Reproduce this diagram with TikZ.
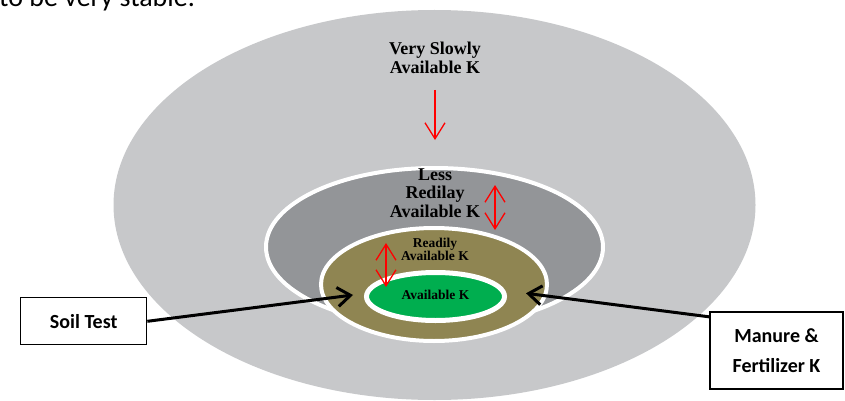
\documentclass[tikz,border=0pt]{standalone}
\usepackage{fontspec}
\setmainfont{Liberation Serif}
\newfontfamily\calibri{Carlito}
\usetikzlibrary{arrows.meta,calc}
\definecolor{outergray}{HTML}{C7C8CA}
\definecolor{midgray}{HTML}{939598}
\definecolor{olive}{HTML}{8F8552}
\definecolor{kgreen}{HTML}{00AE4F}
\tikzset{
  ring/.style={fill=#1, draw=white},
  biglabel/.style={align=center, inner sep=0pt, font=\bfseries\fontsize{18}{18.5}\selectfont},
  smalllabel/.style={align=center, inner sep=0pt, font=\bfseries\fontsize{13.5}{13}\selectfont},
  labelbox/.style={draw=black, line width=1.3pt, fill=white, align=center, inner sep=0pt,
    font=\calibri\bfseries\fontsize{20}{30}\selectfont},
  redarrow/.style={draw=red, line width=1.3pt},
  redhead/.tip={Straight Barb[length=16pt,width=20pt]},
  blackarrow/.style={draw=black, line width=3pt, -{Straight Barb[length=13pt,width=19pt]}},
}
\begin{document}
\begin{tikzpicture}[x=1pt,y=-1pt]
\useasboundingbox (0,0) rectangle (845,401);
% page text fragment
\node[anchor=base west, inner sep=0pt, font=\calibri\fontsize{28}{30}\selectfont] (pagetext) at (-1,7) {to be very stable.};
% ellipses
\fill[outergray] (434.5,205) ellipse [x radius=321, y radius=195];
\draw[ring=midgray, line width=4pt] (434.5,247) ellipse [x radius=168.5, y radius=79];
\draw[ring=olive, line width=4pt] (434,284.5) ellipse [x radius=113, y radius=56.5];
\draw[ring=kgreen, line width=5pt] (435.5,296.5) ellipse [x radius=69, y radius=24];
% labels
\node[biglabel] (vslow) at (435,57.6) {Very Slowly\\Available K};
\node[biglabel] (less) at (435,193) {Less\\Redilay\\Available K};
\node[smalllabel] (ready) at (435,249) {Readily\\Available K};
\node[smalllabel, anchor=base] (avail) at (435.5,299) {Available K};
% red arrows
\coordinate (r1a) at (435,90); \coordinate (r1b) at (435,140);
\coordinate (r2a) at (495,185); \coordinate (r2b) at (495,230);
\coordinate (r3a) at (386,243); \coordinate (r3b) at (386,287);
\draw[redarrow, -redhead] (r1a) -- (r1b);
\draw[redarrow, redhead-redhead] (r2a) -- (r2b);
\draw[redarrow, redhead-redhead] (r3a) -- (r3b);
% boxes
\node[labelbox, minimum width=126pt, minimum height=47pt] (soil) at (83.7,321.3) {Soil Test};
\node[labelbox, minimum width=133pt, minimum height=77pt] (manure) at (776.5,350.5) {Manure \&\\Fertilizer K};
% black arrows
\coordinate (tipL) at (353,295);
\coordinate (tipR) at (526,293.3);
\draw[blackarrow] (soil.east) -- (tipL);
\draw[blackarrow] ($(manure.north west)+(0,5.5)$) -- (tipR);
\end{tikzpicture}
\end{document}
